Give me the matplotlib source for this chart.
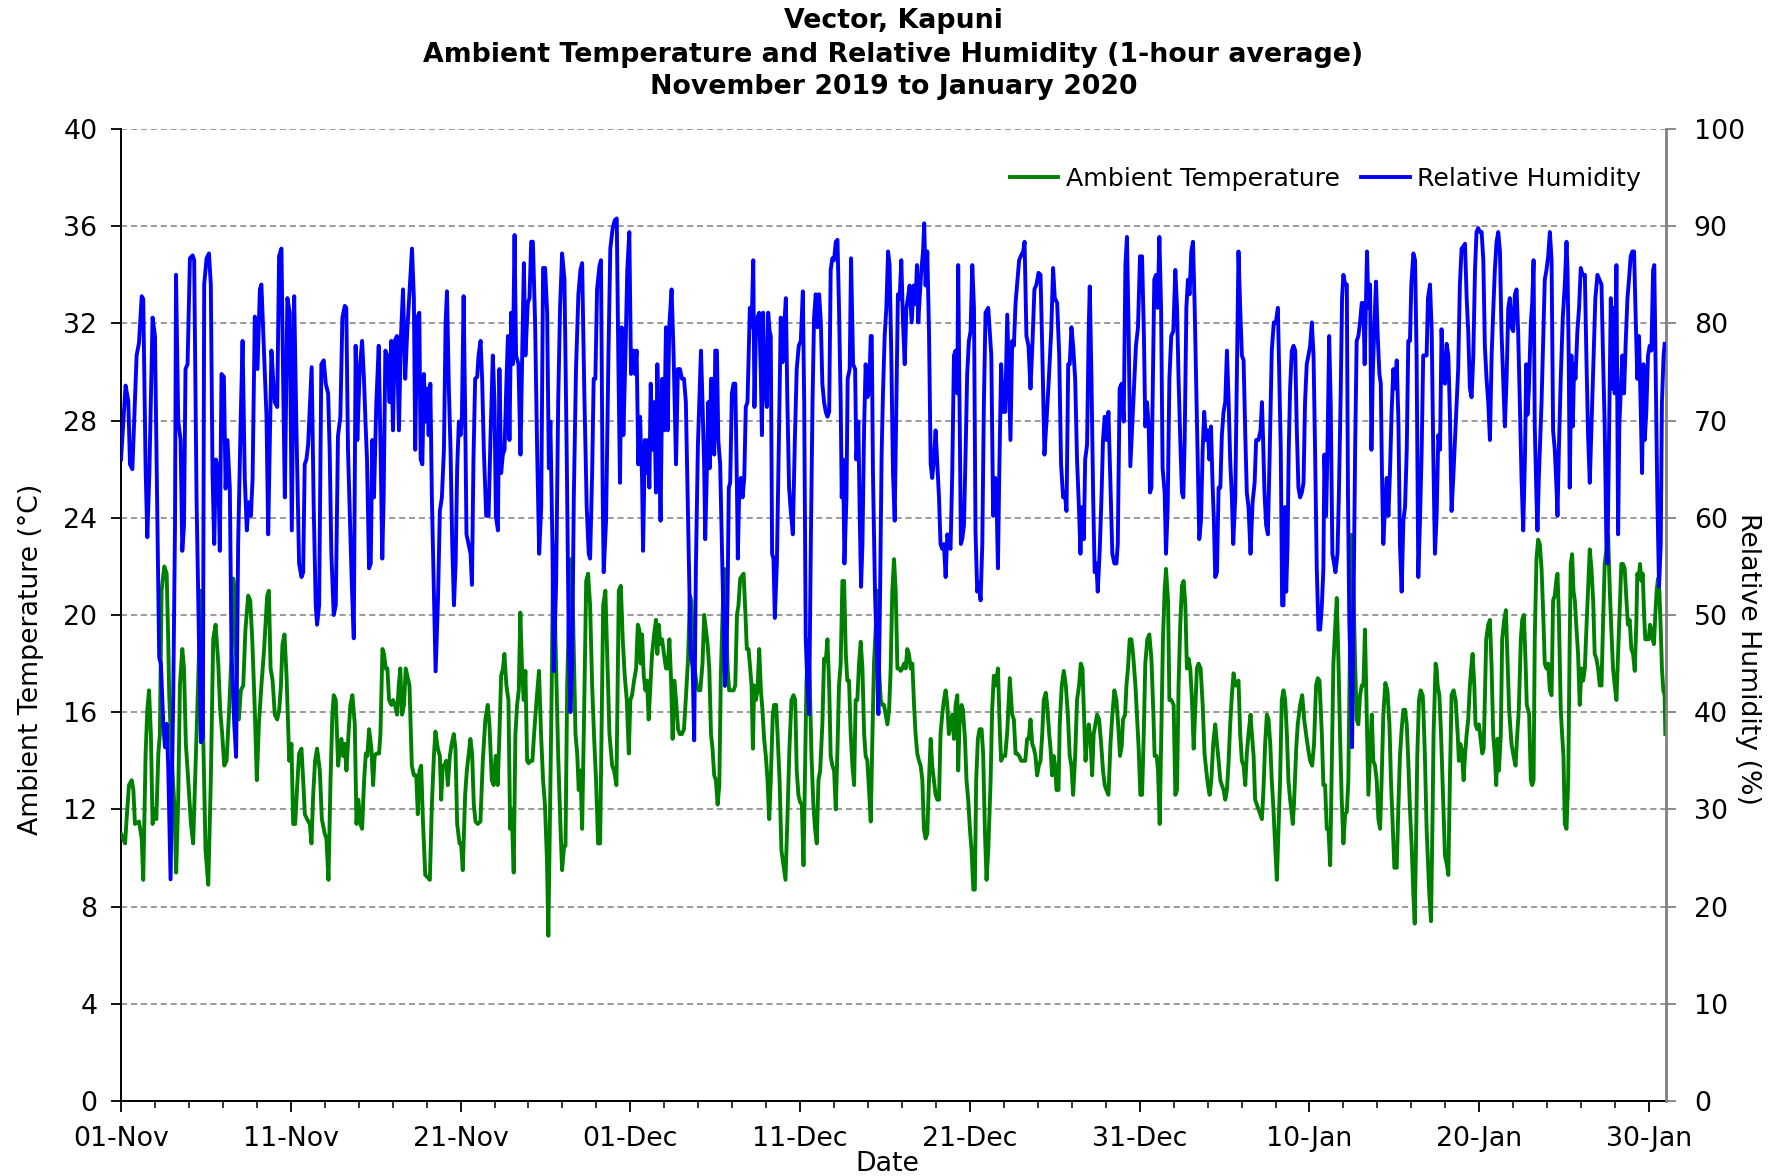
import matplotlib
matplotlib.use("Agg")
import matplotlib.pyplot as plt
import matplotlib.dates as mdates
import pandas as pd

# Hourly-average readings, given as (days since 01-Nov-2019 00:00, value)
START = pd.Timestamp("2019-11-01")

temp_nov = [
    (0.00, 11.0), (0.24, 10.6), (0.33, 11.6), (0.47, 13.0), (0.63, 13.2), (0.73, 12.8), (0.82, 11.4),
    (1.06, 11.5), (1.22, 10.8), (1.31, 9.1), (1.45, 14.3), (1.55, 16.1), (1.65, 16.9), (1.76, 15.1),
    (1.86, 11.4), (1.96, 12.0), (2.08, 11.6), (2.20, 14.3), (2.29, 15.1), (2.39, 21.0), (2.55, 22.0),
    (2.69, 21.7), (2.78, 19.0), (2.84, 16.7), (2.98, 14.2), (3.14, 12.2), (3.25, 9.4), (3.37, 12.4),
    (3.47, 17.1), (3.61, 18.6), (3.71, 17.8), (3.82, 14.7), (3.96, 13.2), (4.12, 11.4), (4.25, 10.6),
    (4.45, 15.1), (4.71, 21.0), (4.84, 15.1), (4.98, 10.3), (5.14, 8.9), (5.29, 13.2), (5.43, 19.0),
    (5.57, 19.6), (5.73, 18.0), (5.84, 16.1), (5.96, 15.1), (6.08, 13.8), (6.22, 14.0), (6.37, 16.1),
    (6.51, 18.4), (6.61, 21.5), (6.71, 21.0), (6.80, 17.1), (6.94, 15.7), (7.06, 16.9), (7.20, 17.1),
    (7.33, 19.4), (7.49, 20.8), (7.61, 20.6), (7.73, 19.0), (7.88, 16.1), (8.00, 13.2), (8.12, 15.5),
    (8.27, 17.1), (8.43, 18.6), (8.61, 20.8), (8.71, 21.0), (8.81, 17.8), (8.93, 17.3), (9.06, 15.9),
    (9.20, 15.7), (9.32, 16.1), (9.42, 17.1), (9.51, 18.8), (9.63, 19.2), (9.75, 17.5), (9.91, 14.0),
    (10.04, 14.7), (10.14, 11.4), (10.26, 11.4), (10.38, 13.0), (10.49, 14.3), (10.63, 14.5),
    (10.73, 13.2), (10.83, 11.8), (10.96, 11.6), (11.12, 11.4), (11.22, 10.6), (11.32, 12.6),
    (11.43, 14.0), (11.55, 14.5), (11.71, 13.6), (11.83, 11.6), (12.00, 11.0), (12.10, 10.8),
    (12.22, 9.1), (12.34, 13.2), (12.45, 15.9), (12.53, 16.7), (12.65, 16.5), (12.79, 13.8),
    (12.89, 14.5), (12.98, 14.9), (13.08, 14.2), (13.18, 14.7), (13.28, 13.6), (13.40, 15.1),
    (13.51, 16.3), (13.63, 16.7), (13.77, 15.5), (13.87, 11.4), (13.98, 12.4), (14.10, 11.4),
    (14.20, 11.2), (14.32, 13.2), (14.42, 14.3), (14.51, 14.2), (14.61, 15.3), (14.75, 14.5),
    (14.85, 13.0), (14.94, 14.2), (15.04, 14.3), (15.20, 14.3), (15.28, 15.1), (15.40, 18.6),
    (15.49, 18.4), (15.59, 17.8), (15.69, 17.8), (15.79, 16.5), (15.93, 16.3), (16.02, 16.5),
    (16.14, 16.3), (16.26, 15.9), (16.36, 17.1), (16.45, 17.8), (16.55, 15.9), (16.67, 16.3),
    (16.77, 17.8), (16.99, 17.1), (17.13, 13.8), (17.25, 13.4), (17.39, 13.4), (17.48, 11.8),
    (17.58, 13.6), (17.68, 13.8), (17.78, 11.6), (17.92, 9.3), (18.07, 9.2), (18.19, 9.1),
    (18.31, 12.2), (18.43, 14.2), (18.52, 15.2), (18.66, 14.5), (18.78, 14.2), (18.86, 12.4),
    (18.95, 13.8), (19.05, 13.8), (19.15, 14.0), (19.25, 13.0), (19.37, 14.2), (19.48, 14.7),
    (19.60, 15.1), (19.70, 14.5), (19.80, 11.4), (19.94, 10.6), (20.03, 10.6), (20.13, 9.5),
    (20.27, 12.6), (20.37, 13.6), (20.48, 14.3), (20.58, 14.9), (20.68, 14.3), (20.78, 12.2),
    (20.88, 11.5), (21.01, 11.4), (21.17, 11.5), (21.31, 14.0), (21.46, 15.7), (21.60, 16.3),
    (21.70, 15.5), (21.84, 13.2), (21.95, 13.0), (22.07, 14.2), (22.19, 13.0), (22.29, 15.1),
    (22.39, 17.5), (22.50, 17.8), (22.58, 18.4), (22.70, 17.1), (22.82, 16.5), (22.92, 11.2),
    (23.01, 12.0), (23.13, 9.4), (23.23, 15.1), (23.33, 16.3), (23.43, 16.9), (23.52, 20.1),
    (23.62, 17.8), (23.72, 16.5), (23.82, 17.7), (23.92, 14.0), (24.01, 13.9), (24.11, 14.0),
    (24.23, 14.0), (24.35, 15.3), (24.50, 16.7), (24.62, 17.7), (24.74, 15.1), (24.86, 13.2),
    (24.97, 12.2), (25.09, 9.9), (25.17, 6.8), (25.27, 11.8), (25.37, 17.1), (25.46, 22.9),
    (25.59, 19.0), (25.75, 14.2), (25.89, 11.2), (25.98, 9.5), (26.10, 10.5), (26.18, 10.5),
    (26.28, 17.1), (26.42, 21.0), (26.51, 22.3), (26.63, 19.8), (26.77, 15.1), (26.87, 14.3),
    (26.96, 12.8), (27.06, 13.6), (27.16, 11.2), (27.28, 16.1), (27.40, 21.4), (27.51, 21.7),
    (27.63, 20.4), (27.75, 17.1), (27.87, 14.9), (27.98, 13.2), (28.10, 10.6), (28.22, 10.6),
    (28.30, 15.1), (28.40, 20.4), (28.53, 21.0), (28.65, 18.0), (28.77, 15.1), (28.93, 13.8),
    (29.04, 13.6), (29.18, 13.0), (29.32, 21.0), (29.44, 21.2), (29.55, 19.0), (29.67, 17.5),
    (29.79, 16.5), (29.91, 14.3),
]

temp_dec = [
    (30.00, 16.5), (30.10, 16.7), (30.22, 17.3), (30.34, 17.8), (30.44, 19.6), (30.53, 19.4),
    (30.61, 18.0), (30.69, 19.2), (30.79, 17.5), (30.89, 16.9), (30.98, 17.3), (31.08, 15.7),
    (31.18, 17.1), (31.28, 18.4), (31.40, 19.2), (31.51, 19.8), (31.59, 18.4), (31.67, 19.6),
    (31.77, 18.8), (31.87, 19.0), (31.98, 18.4), (32.10, 17.8), (32.20, 17.8), (32.30, 19.0),
    (32.40, 17.3), (32.49, 14.9), (32.59, 17.3), (32.69, 16.5), (32.81, 15.3), (32.91, 15.1),
    (33.04, 15.1), (33.16, 15.3), (33.28, 16.7), (33.40, 18.2), (33.51, 20.8), (33.59, 20.6),
    (33.67, 19.0), (33.79, 17.8), (33.91, 17.1), (34.02, 16.9), (34.12, 16.9), (34.25, 18.0),
    (34.35, 20.0), (34.45, 19.4), (34.55, 18.8), (34.65, 17.8), (34.75, 15.1), (34.84, 14.5),
    (34.94, 13.4), (35.04, 13.2), (35.14, 12.2), (35.24, 13.0), (35.33, 17.5), (35.43, 20.0),
    (35.53, 21.9), (35.63, 20.0), (35.73, 17.8), (35.82, 16.9), (35.92, 16.9), (36.08, 16.9),
    (36.18, 17.1), (36.28, 20.0), (36.37, 20.4), (36.47, 21.5), (36.57, 21.6), (36.67, 21.7),
    (36.77, 20.2), (36.86, 18.6), (36.96, 18.6), (37.06, 17.8), (37.14, 17.1), (37.22, 14.5),
    (37.29, 17.1), (37.39, 16.5), (37.49, 16.9), (37.59, 18.6), (37.69, 16.9), (37.78, 16.1),
    (37.88, 14.9), (37.98, 14.2), (38.08, 13.2), (38.18, 11.6), (38.27, 13.2), (38.39, 15.9),
    (38.47, 16.3), (38.59, 16.3), (38.67, 15.1), (38.79, 13.2), (38.90, 10.3), (39.02, 9.7),
    (39.14, 9.1), (39.25, 11.6), (39.37, 14.5), (39.49, 16.5), (39.61, 16.7), (39.71, 16.5),
    (39.80, 13.6), (39.90, 12.6), (40.00, 12.3), (40.10, 12.2), (40.20, 9.7), (40.28, 13.2),
    (40.37, 17.1), (40.47, 19.0), (40.57, 17.1), (40.67, 14.2), (40.78, 12.2), (40.88, 11.2),
    (40.98, 10.6), (41.08, 13.2), (41.18, 13.6), (41.31, 15.5), (41.41, 18.2), (41.51, 18.1),
    (41.61, 19.0), (41.71, 17.1), (41.80, 14.2), (41.90, 13.8), (42.00, 13.6), (42.10, 12.0),
    (42.20, 14.5), (42.29, 17.1), (42.39, 18.0), (42.49, 21.4), (42.59, 21.4), (42.69, 18.4),
    (42.78, 17.3), (42.88, 17.3), (42.98, 15.1), (43.08, 13.8), (43.18, 13.0), (43.27, 16.5),
    (43.37, 16.5), (43.47, 18.0), (43.57, 18.9), (43.67, 17.8), (43.77, 15.1), (43.86, 14.2),
    (43.96, 14.0), (44.06, 12.8), (44.16, 11.5), (44.26, 15.1), (44.35, 18.0), (44.45, 19.4),
    (44.55, 21.0), (44.65, 17.7), (44.75, 16.5), (44.84, 16.3), (44.94, 16.3), (45.04, 15.9),
    (45.14, 15.5), (45.24, 16.1), (45.33, 17.7), (45.43, 21.0), (45.53, 22.3), (45.63, 21.0),
    (45.73, 17.8), (45.82, 17.8), (45.92, 17.7), (46.02, 17.8), (46.12, 18.0), (46.22, 17.8),
    (46.31, 18.6), (46.41, 18.4), (46.51, 17.8), (46.61, 18.0), (46.71, 16.3), (46.80, 15.1),
    (46.90, 14.3), (47.00, 14.0), (47.10, 13.8), (47.20, 13.2), (47.29, 11.2), (47.39, 10.8),
    (47.49, 11.0), (47.59, 13.2), (47.69, 14.9), (47.78, 13.8), (47.88, 13.2), (47.98, 12.6),
    (48.08, 12.4), (48.18, 12.4), (48.27, 15.1), (48.37, 15.9), (48.47, 16.5), (48.57, 16.9),
    (48.67, 16.3), (48.76, 15.1), (48.86, 15.5), (48.96, 15.9), (49.06, 14.9), (49.16, 16.3),
    (49.26, 16.7), (49.31, 13.6), (49.39, 15.5), (49.51, 16.3), (49.59, 16.1), (49.71, 14.9),
    (49.80, 13.2), (49.90, 12.4), (50.00, 11.2), (50.10, 10.3), (50.20, 8.7), (50.29, 8.7),
    (50.37, 13.2), (50.47, 14.9), (50.57, 15.3), (50.69, 15.3), (50.78, 14.3), (50.88, 11.2),
    (50.98, 9.1), (51.08, 10.3), (51.22, 13.2), (51.31, 16.1), (51.41, 17.5), (51.53, 17.1),
    (51.65, 17.8), (51.77, 15.1), (51.84, 14.0), (51.96, 14.2), (52.08, 14.2), (52.20, 15.2),
    (52.35, 17.4), (52.49, 15.9), (52.59, 15.7), (52.69, 14.3), (52.79, 14.3), (52.90, 14.2),
    (53.02, 14.0), (53.14, 14.0), (53.26, 14.0), (53.37, 14.9), (53.47, 14.9), (53.57, 15.7),
    (53.67, 14.7), (53.77, 14.5), (53.86, 14.2), (53.96, 13.4), (54.06, 13.8), (54.16, 14.0),
    (54.26, 15.1), (54.35, 16.5), (54.47, 16.8), (54.55, 16.3), (54.67, 15.1), (54.75, 14.5),
    (54.84, 13.4), (54.94, 14.2), (55.02, 13.8), (55.10, 12.8), (55.22, 12.8), (55.29, 15.5),
    (55.41, 17.1), (55.53, 17.7), (55.65, 17.1), (55.77, 15.9), (55.88, 14.2), (55.98, 13.8),
    (56.08, 12.6), (56.20, 14.2), (56.31, 16.5), (56.43, 17.1), (56.53, 18.0), (56.63, 17.8),
    (56.71, 16.1), (56.81, 14.0), (56.90, 14.9), (57.00, 15.5), (57.10, 14.9), (57.20, 13.4),
    (57.29, 15.1), (57.39, 15.5), (57.49, 15.9), (57.61, 15.7), (57.73, 14.7), (57.84, 13.6),
    (57.94, 13.0), (58.04, 12.8), (58.16, 12.6), (58.28, 14.7), (58.39, 15.9), (58.51, 16.9),
    (58.63, 16.5), (58.75, 15.3), (58.84, 14.2), (58.94, 14.6), (59.02, 15.7), (59.14, 15.9),
    (59.22, 17.1), (59.31, 17.8), (59.41, 19.0), (59.51, 19.0), (59.61, 18.4), (59.75, 17.1),
    (59.84, 15.9), (59.94, 14.5), (60.04, 12.6), (60.14, 12.6), (60.24, 15.1), (60.33, 18.0),
    (60.45, 19.0), (60.57, 19.2), (60.69, 18.2), (60.80, 16.1), (60.88, 14.2),
]

temp_jan = [
    (61.00, 14.2), (61.08, 13.6), (61.18, 11.4), (61.27, 15.1), (61.37, 19.0), (61.47, 21.0),
    (61.55, 21.9), (61.67, 20.6), (61.75, 16.5), (61.86, 16.5), (62.00, 16.3), (62.10, 12.6),
    (62.20, 12.8), (62.29, 17.1), (62.39, 19.6), (62.49, 21.2), (62.59, 21.4), (62.69, 20.4),
    (62.78, 17.8), (62.88, 18.2), (62.98, 17.8), (63.08, 16.5), (63.18, 14.5), (63.27, 16.1),
    (63.37, 17.8), (63.47, 18.0), (63.59, 17.8), (63.71, 16.3), (63.82, 14.3), (63.92, 13.6),
    (64.02, 13.0), (64.12, 12.6), (64.22, 13.2), (64.33, 14.7), (64.45, 15.5), (64.55, 14.7),
    (64.65, 14.0), (64.75, 13.2), (64.84, 13.0), (64.94, 12.8), (65.04, 12.4), (65.14, 12.8),
    (65.24, 14.0), (65.33, 15.5), (65.43, 16.7), (65.53, 17.6), (65.63, 17.1), (65.73, 17.1),
    (65.82, 17.3), (65.92, 15.1), (66.02, 14.0), (66.12, 13.8), (66.22, 13.0), (66.31, 14.3),
    (66.41, 15.1), (66.53, 15.9), (66.61, 15.1), (66.71, 14.2), (66.80, 12.4), (66.90, 12.2),
    (67.00, 12.0), (67.10, 11.8), (67.20, 11.6), (67.29, 12.8), (67.39, 14.7), (67.49, 15.9),
    (67.59, 15.7), (67.69, 14.7), (67.78, 13.2), (67.88, 12.0), (67.98, 10.5), (68.08, 9.1),
    (68.27, 13.2), (68.37, 16.5), (68.47, 16.9), (68.57, 16.5), (68.67, 15.1), (68.76, 13.2),
    (68.86, 12.4), (68.96, 11.8), (69.02, 11.4), (69.10, 12.4), (69.22, 14.5), (69.31, 15.5),
    (69.45, 16.3), (69.57, 16.7), (69.69, 15.7), (69.80, 15.1), (69.92, 14.5), (70.04, 14.0),
    (70.16, 13.8), (70.27, 14.7), (70.39, 17.1), (70.49, 17.4), (70.59, 17.3), (70.73, 15.1),
    (70.82, 13.0), (70.92, 13.0), (71.02, 11.2), (71.12, 11.2), (71.22, 9.7), (71.31, 13.6),
    (71.41, 18.0), (71.51, 19.4), (71.61, 20.7), (71.71, 18.0), (71.80, 15.1), (71.90, 12.4),
    (72.00, 10.6), (72.10, 11.8), (72.20, 11.9), (72.29, 13.2), (72.39, 19.0), (72.49, 23.3),
    (72.59, 21.0), (72.69, 18.0), (72.78, 15.7), (72.88, 15.5), (72.98, 16.7), (73.08, 17.1),
    (73.18, 17.1), (73.27, 19.4), (73.37, 16.1), (73.47, 12.6), (73.57, 14.2), (73.67, 15.9),
    (73.76, 14.0), (73.86, 13.8), (73.96, 13.2), (74.06, 11.6), (74.16, 11.2), (74.25, 13.2),
    (74.35, 15.9), (74.47, 17.2), (74.59, 16.9), (74.71, 15.5), (74.80, 13.2), (74.90, 11.4),
    (75.00, 9.6), (75.14, 9.6), (75.24, 12.2), (75.33, 14.2), (75.43, 15.3), (75.53, 16.1),
    (75.63, 16.1), (75.73, 15.5), (75.82, 14.0), (75.92, 12.0), (76.02, 10.5), (76.12, 8.5),
    (76.20, 7.3), (76.27, 10.3), (76.35, 14.2), (76.45, 16.5), (76.55, 16.9), (76.67, 16.7),
    (76.71, 16.1), (76.80, 14.2), (76.90, 11.2), (77.06, 8.5), (77.16, 7.4), (77.24, 11.2),
    (77.31, 15.1), (77.43, 18.0), (77.49, 17.8), (77.55, 17.1), (77.65, 16.7), (77.75, 15.1),
    (77.88, 12.2), (77.98, 10.1), (78.10, 9.7), (78.18, 9.3), (78.27, 13.2), (78.37, 16.7),
    (78.49, 16.9), (78.61, 16.5), (78.73, 15.1), (78.80, 14.0), (78.88, 14.7), (78.96, 14.5),
    (79.08, 13.2), (79.16, 14.2), (79.26, 15.1), (79.35, 15.7), (79.45, 17.1), (79.55, 18.0),
    (79.61, 18.4), (79.71, 17.1), (79.78, 15.5), (79.88, 15.3), (79.98, 15.5), (80.08, 14.9),
    (80.18, 14.3), (80.26, 14.5), (80.33, 16.5), (80.41, 19.0), (80.53, 19.6), (80.63, 19.8),
    (80.73, 17.8), (80.82, 15.1), (80.92, 14.2), (81.00, 13.0), (81.08, 14.9), (81.16, 13.6),
    (81.27, 15.1), (81.35, 19.0), (81.47, 19.8), (81.57, 20.2), (81.67, 18.0), (81.76, 16.1),
    (81.90, 14.7), (82.02, 14.2), (82.14, 13.8), (82.24, 15.1), (82.33, 16.1), (82.45, 19.0),
    (82.53, 19.8), (82.63, 20.0), (82.73, 18.0), (82.80, 16.3), (82.88, 16.1), (82.94, 15.9),
    (83.04, 13.2), (83.12, 13.0), (83.20, 13.2), (83.27, 19.0), (83.37, 22.3), (83.47, 23.1),
    (83.57, 22.9), (83.67, 21.9), (83.77, 20.0), (83.86, 18.0), (83.96, 17.8), (84.06, 18.0),
    (84.16, 16.9), (84.26, 16.7), (84.35, 20.6), (84.45, 20.8), (84.55, 21.5), (84.61, 21.7),
    (84.69, 20.0), (84.80, 16.1), (84.88, 15.1), (84.96, 14.2), (85.04, 11.4), (85.14, 11.2),
    (85.24, 13.2), (85.33, 19.0), (85.39, 22.1), (85.47, 22.5), (85.55, 21.0), (85.63, 20.6),
    (85.73, 19.4), (85.82, 18.4), (85.92, 16.3), (86.02, 17.8), (86.12, 17.3), (86.22, 17.8),
    (86.31, 19.4), (86.41, 21.0), (86.51, 22.7), (86.61, 21.9), (86.71, 20.6), (86.80, 18.4),
    (86.90, 18.2), (87.00, 17.8), (87.10, 17.1), (87.20, 17.1), (87.29, 19.6), (87.39, 22.1),
    (87.59, 23.3), (87.69, 21.0), (87.78, 19.4), (87.88, 17.8), (87.98, 17.1), (88.08, 16.5),
    (88.18, 18.4), (88.27, 20.2), (88.37, 22.1), (88.47, 22.1), (88.57, 21.9), (88.67, 20.6),
    (88.76, 19.6), (88.86, 19.8), (88.96, 18.6), (89.06, 18.4), (89.16, 17.7), (89.25, 19.6),
    (89.31, 21.7), (89.39, 21.5), (89.47, 22.1), (89.55, 21.4), (89.63, 21.7), (89.71, 20.0),
    (89.78, 19.0), (89.88, 19.0), (89.98, 19.0), (90.06, 19.6), (90.14, 19.4), (90.22, 19.0),
    (90.29, 18.8), (90.37, 20.0), (90.45, 21.0), (90.53, 21.5), (90.61, 21.0), (90.69, 19.4),
    (90.76, 17.8), (90.84, 16.9), (90.92, 16.7), (90.96, 15.1),
]

rh_nov = [
    (0.00, 66.0), (0.27, 73.6), (0.43, 72.0), (0.53, 65.5), (0.67, 65.0), (0.92, 76.7), (1.06, 78.0),
    (1.22, 82.8), (1.31, 82.5), (1.45, 65.0), (1.55, 58.0), (1.67, 64.6), (1.86, 80.6), (2.00, 78.7),
    (2.25, 45.6), (2.35, 45.0), (2.49, 38.8), (2.59, 36.4), (2.69, 38.8), (2.78, 34.4), (2.92, 22.8),
    (3.08, 42.2), (3.18, 59.0), (3.24, 85.0), (3.37, 70.0), (3.51, 68.0), (3.61, 56.6), (3.71, 59.2),
    (3.80, 75.3), (3.92, 75.8), (4.06, 86.7), (4.22, 87.0), (4.31, 86.5), (4.45, 62.0), (4.59, 47.6),
    (4.71, 36.9), (4.82, 37.5), (4.90, 84.0), (5.04, 86.7), (5.18, 87.2), (5.29, 84.0), (5.39, 64.6),
    (5.49, 57.3), (5.59, 66.0), (5.73, 65.0), (5.82, 56.6), (5.92, 74.8), (6.06, 74.5), (6.16, 63.0),
    (6.27, 68.0), (6.41, 63.0), (6.51, 46.1), (6.67, 38.8), (6.78, 35.4), (6.90, 57.3), (7.06, 70.9),
    (7.16, 78.2), (7.29, 64.1), (7.41, 58.7), (7.53, 61.6), (7.65, 60.2), (7.75, 64.0), (7.88, 80.7),
    (8.04, 75.3), (8.18, 83.5), (8.27, 84.0), (8.43, 76.7), (8.57, 70.4), (8.67, 58.3), (8.76, 67.0),
    (8.86, 77.2), (8.96, 74.3), (9.06, 71.9), (9.20, 71.4), (9.31, 86.9), (9.45, 87.7), (9.55, 74.3),
    (9.65, 62.1), (9.80, 82.6), (9.94, 81.1), (10.06, 58.7), (10.20, 82.8), (10.33, 69.4),
    (10.49, 55.3), (10.63, 53.9), (10.73, 54.4), (10.82, 65.5), (10.92, 66.0), (11.02, 67.5),
    (11.12, 71.4), (11.23, 75.5), (11.35, 61.1), (11.47, 51.0), (11.55, 49.0), (11.67, 51.0),
    (11.80, 75.8), (11.94, 76.2), (12.06, 73.8), (12.20, 72.8), (12.29, 67.0), (12.39, 56.3),
    (12.53, 50.0), (12.65, 51.0), (12.78, 68.4), (12.92, 70.4), (13.04, 80.6), (13.18, 81.8),
    (13.27, 81.6), (13.37, 67.0), (13.47, 60.7), (13.59, 53.4), (13.71, 47.6), (13.82, 77.7),
    (13.92, 68.0), (14.06, 75.3), (14.20, 78.2), (14.31, 74.3), (14.41, 69.4), (14.49, 66.0),
    (14.61, 54.8), (14.71, 55.3), (14.80, 68.0), (14.90, 62.1), (15.04, 71.9), (15.18, 77.7),
    (15.29, 67.0), (15.39, 55.8), (15.47, 62.1), (15.57, 77.2), (15.69, 76.7), (15.82, 71.9),
    (15.92, 78.2), (16.02, 69.0), (16.12, 78.2), (16.25, 78.7), (16.37, 69.0), (16.49, 78.7),
    (16.61, 83.5), (16.74, 74.3), (16.86, 79.2), (17.14, 87.7), (17.25, 82.6), (17.33, 67.0),
    (17.45, 80.6), (17.57, 81.1), (17.65, 66.0), (17.75, 65.5), (17.84, 74.8), (17.94, 69.9),
    (18.04, 73.3), (18.12, 68.5), (18.22, 73.8), (18.31, 62.1), (18.43, 52.4), (18.53, 44.2),
    (18.67, 51.5), (18.78, 60.7), (18.90, 62.1), (19.02, 67.0), (19.12, 80.1), (19.20, 83.3),
    (19.31, 73.3), (19.41, 67.0), (19.51, 57.3), (19.61, 51.0), (19.71, 55.3), (19.80, 65.1),
    (19.90, 69.9), (20.00, 68.5), (20.08, 70.4), (20.18, 82.8), (20.27, 70.9), (20.35, 58.3),
    (20.47, 57.3), (20.59, 56.3), (20.67, 53.1), (20.76, 66.0), (20.86, 74.3), (20.98, 74.5),
    (21.06, 76.7), (21.18, 78.2), (21.27, 74.3), (21.37, 67.0), (21.51, 60.2), (21.65, 60.2),
    (21.76, 68.0), (21.90, 76.7), (22.00, 71.9), (22.08, 60.2), (22.20, 58.7), (22.29, 75.3),
    (22.39, 64.6), (22.49, 66.5), (22.59, 67.0), (22.69, 73.3), (22.79, 78.7), (22.88, 68.0),
    (22.98, 81.1), (23.08, 75.8), (23.18, 89.1), (23.27, 76.7), (23.41, 75.8), (23.53, 66.5),
    (23.63, 76.7), (23.73, 86.2), (23.82, 76.7), (23.96, 82.1), (24.06, 82.6), (24.16, 88.4),
    (24.26, 88.4), (24.39, 80.1), (24.51, 67.0), (24.63, 56.3), (24.75, 61.1), (24.86, 85.7),
    (24.98, 85.7), (25.10, 81.1), (25.20, 65.1), (25.29, 69.9), (25.41, 57.3), (25.49, 44.2),
    (25.63, 53.4), (25.75, 71.9), (25.86, 81.6), (25.98, 87.2), (26.12, 84.5), (26.25, 67.0),
    (26.37, 47.6), (26.47, 40.0), (26.57, 44.6), (26.67, 62.1), (26.80, 75.3), (26.94, 83.0),
    (27.06, 85.5), (27.16, 86.2), (27.29, 72.8), (27.43, 61.1), (27.55, 56.3), (27.63, 55.8),
    (27.75, 64.6), (27.84, 74.3), (27.94, 74.3), (28.04, 83.5), (28.18, 85.9), (28.27, 86.5),
    (28.37, 62.6), (28.43, 54.4), (28.57, 59.7), (28.71, 76.7), (28.82, 87.7), (28.96, 89.8),
    (29.08, 90.6), (29.20, 90.8), (29.29, 76.7), (29.39, 63.6), (29.49, 79.6), (29.59, 68.5),
    (29.71, 76.7), (29.82, 85.5), (29.94, 89.4),
]

rh_dec = [
    (30.04, 74.8), (30.18, 77.2), (30.27, 74.8), (30.37, 77.2), (30.47, 65.5), (30.57, 70.4),
    (30.69, 64.1), (30.75, 56.6), (30.86, 68.0), (30.96, 64.6), (31.04, 68.0), (31.12, 63.1),
    (31.20, 73.8), (31.31, 67.0), (31.41, 71.9), (31.51, 62.6), (31.59, 75.8), (31.69, 68.5),
    (31.78, 59.7), (31.88, 74.3), (32.00, 69.0), (32.10, 79.6), (32.20, 69.0), (32.29, 79.6),
    (32.43, 83.5), (32.55, 76.7), (32.69, 65.5), (32.80, 75.3), (32.92, 75.3), (33.04, 74.3),
    (33.16, 74.3), (33.27, 71.9), (33.43, 57.3), (33.55, 46.1), (33.67, 44.6), (33.76, 37.1),
    (33.86, 54.8), (33.98, 67.5), (34.16, 77.2), (34.25, 71.9), (34.35, 65.1), (34.41, 57.8),
    (34.51, 65.0), (34.59, 71.9), (34.67, 65.1), (34.75, 74.3), (34.84, 74.3), (34.94, 66.5),
    (35.00, 77.2), (35.10, 77.2), (35.18, 68.0), (35.29, 65.5), (35.39, 57.3), (35.49, 49.0),
    (35.57, 42.7), (35.65, 44.6), (35.73, 52.4), (35.80, 63.1), (35.88, 63.6), (35.98, 72.8),
    (36.08, 73.8), (36.18, 73.8), (36.28, 63.1), (36.33, 55.8), (36.41, 62.6), (36.51, 64.1),
    (36.61, 62.1), (36.71, 64.1), (36.80, 71.4), (36.90, 71.9), (36.96, 76.2), (37.04, 81.6),
    (37.14, 79.6), (37.24, 86.5), (37.31, 71.4), (37.39, 78.7), (37.49, 80.6), (37.59, 81.1),
    (37.69, 74.3), (37.75, 68.5), (37.82, 81.1), (37.92, 73.8), (38.04, 71.4), (38.12, 81.1),
    (38.20, 79.2), (38.27, 78.7), (38.35, 56.3), (38.43, 55.8), (38.51, 49.7), (38.63, 55.3),
    (38.75, 68.0), (38.86, 80.6), (38.96, 76.0), (39.06, 79.6), (39.16, 82.6), (39.25, 71.9),
    (39.35, 63.1), (39.45, 60.7), (39.57, 58.3), (39.69, 68.0), (39.80, 75.3), (39.92, 77.7),
    (40.04, 78.2), (40.16, 83.3), (40.24, 71.9), (40.33, 47.6), (40.43, 42.7), (40.53, 39.8),
    (40.63, 57.3), (40.73, 71.9), (40.82, 80.6), (40.92, 83.0), (41.02, 79.6), (41.12, 83.0),
    (41.22, 80.1), (41.31, 73.8), (41.41, 71.9), (41.51, 70.9), (41.61, 70.4), (41.71, 70.9),
    (41.80, 85.5), (41.90, 86.7), (42.00, 86.5), (42.10, 88.4), (42.20, 88.6), (42.29, 81.6),
    (42.39, 71.9), (42.45, 62.1), (42.53, 66.0), (42.61, 55.3), (42.73, 62.1), (42.80, 74.3),
    (42.92, 75.3), (43.00, 86.7), (43.12, 75.8), (43.24, 75.3), (43.31, 66.0), (43.43, 69.9),
    (43.51, 60.2), (43.59, 52.9), (43.67, 57.3), (43.77, 69.4), (43.86, 75.8), (43.96, 72.4),
    (44.06, 72.9), (44.16, 78.7), (44.22, 78.7), (44.29, 64.6), (44.41, 52.4), (44.53, 45.1),
    (44.61, 39.8), (44.71, 52.4), (44.80, 66.5), (44.88, 72.8), (44.98, 78.7), (45.08, 81.6),
    (45.18, 87.4), (45.27, 86.0), (45.37, 76.7), (45.47, 64.6), (45.57, 59.7), (45.67, 71.9),
    (45.76, 83.0), (45.86, 82.5), (45.96, 86.5), (46.06, 80.1), (46.16, 75.8), (46.26, 81.6),
    (46.35, 82.6), (46.45, 83.9), (46.57, 80.1), (46.69, 83.9), (46.80, 82.0), (46.88, 86.0),
    (46.96, 80.1), (47.04, 82.6), (47.14, 85.5), (47.24, 87.4), (47.31, 90.3), (47.39, 83.9),
    (47.49, 87.4), (47.59, 79.2), (47.69, 65.5), (47.78, 64.1), (47.88, 66.0), (47.98, 69.0),
    (48.08, 65.5), (48.18, 62.1), (48.27, 57.3), (48.37, 56.8), (48.47, 57.3), (48.57, 53.9),
    (48.67, 58.3), (48.76, 57.3), (48.86, 56.8), (48.96, 64.6), (49.06, 76.7), (49.16, 77.2),
    (49.26, 72.8), (49.31, 86.0), (49.39, 71.9), (49.47, 57.3), (49.55, 57.8), (49.65, 59.2),
    (49.75, 67.0), (49.84, 74.8), (49.94, 78.2), (50.04, 79.2), (50.14, 86.0), (50.24, 81.6),
    (50.33, 58.7), (50.43, 52.4), (50.53, 53.4), (50.63, 51.5), (50.73, 57.3), (50.82, 71.4),
    (50.92, 81.1), (51.08, 81.6), (51.26, 76.7), (51.37, 60.2), (51.49, 64.1), (51.57, 62.1),
    (51.65, 54.8), (51.73, 64.6), (51.84, 75.8), (51.96, 70.9), (52.08, 70.9), (52.20, 80.9),
    (52.30, 74.3), (52.39, 68.0), (52.49, 78.2), (52.59, 77.7), (52.69, 82.1), (52.78, 84.0),
    (52.90, 86.5), (53.02, 87.0), (53.14, 87.4), (53.22, 88.4), (53.33, 78.7), (53.45, 77.7),
    (53.57, 73.3), (53.69, 78.2), (53.80, 83.5), (53.92, 84.0), (54.04, 85.2), (54.16, 85.0),
    (54.27, 76.7), (54.39, 66.5), (54.51, 69.9), (54.65, 74.3), (54.79, 79.2), (54.90, 85.7),
    (55.00, 82.6), (55.14, 82.1), (55.26, 76.7), (55.37, 65.5), (55.49, 62.1), (55.59, 62.6),
    (55.69, 60.7), (55.79, 75.8), (55.88, 75.8), (55.98, 79.6), (56.08, 77.7), (56.20, 74.3),
    (56.31, 66.0), (56.43, 60.7), (56.51, 56.3), (56.61, 61.1), (56.71, 57.8), (56.79, 66.0),
    (56.90, 67.5), (57.00, 79.6), (57.06, 83.8), (57.16, 74.3), (57.26, 62.1), (57.35, 54.4),
    (57.45, 55.3), (57.53, 52.4), (57.65, 56.8), (57.75, 62.1), (57.84, 68.0), (57.94, 70.4),
    (58.04, 68.0), (58.16, 70.9), (58.28, 63.1), (58.39, 56.3), (58.51, 55.3), (58.63, 55.3),
    (58.71, 57.3), (58.82, 73.3), (58.94, 73.8), (59.06, 69.9), (59.16, 86.0), (59.25, 88.9),
    (59.35, 79.2), (59.45, 65.3), (59.57, 69.9), (59.78, 77.7), (59.90, 79.6), (60.02, 86.9),
    (60.14, 86.9), (60.25, 78.7), (60.33, 69.4), (60.43, 71.9), (60.53, 69.4), (60.61, 62.6),
    (60.69, 63.1), (60.76, 71.9), (60.86, 84.5), (60.96, 85.0),
]

rh_jan = [
    (61.06, 81.6), (61.16, 88.9), (61.26, 81.6), (61.35, 65.1), (61.47, 62.6), (61.55, 56.3),
    (61.65, 61.1), (61.75, 74.3), (61.86, 78.7), (61.98, 79.2), (62.10, 85.5), (62.20, 81.6),
    (62.29, 74.3), (62.39, 68.0), (62.49, 62.6), (62.57, 62.1), (62.65, 68.0), (62.75, 81.6),
    (62.84, 84.5), (62.94, 83.0), (63.04, 87.4), (63.14, 88.4), (63.24, 81.6), (63.35, 71.9),
    (63.43, 65.1), (63.51, 57.8), (63.61, 59.7), (63.71, 67.0), (63.80, 70.9), (63.90, 68.0),
    (64.02, 69.0), (64.10, 66.0), (64.20, 69.4), (64.29, 63.6), (64.37, 59.7), (64.45, 53.9),
    (64.55, 54.4), (64.65, 63.1), (64.75, 63.1), (64.84, 68.5), (64.94, 70.9), (65.04, 71.9),
    (65.14, 77.2), (65.24, 71.9), (65.33, 66.0), (65.43, 62.1), (65.51, 57.3), (65.63, 62.1),
    (65.73, 75.3), (65.82, 87.4), (65.92, 81.6), (66.02, 76.7), (66.12, 76.2), (66.22, 68.5),
    (66.31, 62.6), (66.41, 61.1), (66.53, 56.3), (66.65, 61.6), (66.77, 63.6), (66.86, 68.0),
    (67.00, 68.0), (67.12, 69.0), (67.20, 71.9), (67.27, 68.0), (67.35, 62.6), (67.45, 59.2),
    (67.55, 58.3), (67.65, 66.0), (67.78, 77.2), (67.90, 80.1), (68.02, 80.1), (68.14, 81.6),
    (68.31, 67.0), (68.39, 51.0), (68.47, 51.0), (68.55, 61.1), (68.63, 52.4), (68.71, 57.3),
    (68.78, 67.0), (68.86, 73.3), (68.96, 77.2), (69.06, 77.7), (69.16, 77.2), (69.25, 69.4),
    (69.35, 63.1), (69.45, 62.1), (69.55, 62.6), (69.65, 63.6), (69.74, 71.9), (69.84, 75.8),
    (69.94, 76.7), (70.04, 77.7), (70.14, 80.1), (70.24, 76.7), (70.33, 67.0), (70.43, 54.8),
    (70.53, 48.5), (70.63, 48.5), (70.73, 51.0), (70.82, 54.8), (70.88, 66.5), (70.98, 60.2),
    (71.06, 67.0), (71.16, 78.7), (71.25, 71.9), (71.35, 56.3), (71.45, 55.3), (71.53, 54.4),
    (71.65, 56.3), (71.73, 62.1), (71.84, 72.8), (71.92, 82.6), (72.00, 85.0), (72.10, 84.0),
    (72.20, 84.0), (72.27, 62.1), (72.35, 49.0), (72.45, 42.7), (72.51, 36.4), (72.59, 50.0),
    (72.69, 67.0), (72.78, 78.2), (72.88, 78.7), (72.98, 80.1), (73.08, 82.1), (73.18, 82.1),
    (73.25, 75.8), (73.31, 80.6), (73.39, 87.4), (73.47, 81.6), (73.57, 84.0), (73.65, 67.0),
    (73.73, 74.8), (73.82, 79.6), (73.92, 84.3), (74.02, 78.7), (74.12, 74.8), (74.20, 73.8),
    (74.27, 64.6), (74.35, 57.3), (74.45, 61.1), (74.55, 64.1), (74.65, 60.2), (74.74, 64.6),
    (74.84, 70.9), (74.94, 75.3), (75.04, 73.3), (75.14, 76.2), (75.24, 69.9), (75.33, 57.3),
    (75.43, 52.4), (75.53, 59.7), (75.63, 61.1), (75.73, 67.0), (75.82, 78.2), (75.92, 78.2),
    (76.00, 84.0), (76.12, 87.2), (76.22, 86.5), (76.31, 76.7), (76.41, 53.9), (76.51, 59.7),
    (76.61, 67.0), (76.70, 76.7), (76.90, 76.7), (76.98, 82.6), (77.10, 84.0), (77.20, 79.2),
    (77.29, 67.0), (77.39, 56.3), (77.49, 60.2), (77.59, 68.5), (77.69, 67.0), (77.78, 79.4),
    (77.88, 74.3), (77.98, 73.8), (78.08, 77.9), (78.18, 76.7), (78.27, 70.9), (78.37, 60.7),
    (78.47, 64.1), (78.57, 68.0), (78.67, 71.9), (78.76, 75.3), (78.86, 84.0), (78.96, 87.7),
    (79.06, 87.9), (79.16, 88.2), (79.26, 82.6), (79.35, 79.2), (79.45, 73.3), (79.55, 72.4),
    (79.65, 76.7), (79.75, 85.5), (79.84, 89.4), (79.94, 89.8), (80.04, 89.4), (80.14, 89.4),
    (80.24, 86.5), (80.33, 77.7), (80.43, 74.3), (80.53, 71.9), (80.63, 68.0), (80.73, 76.7),
    (80.82, 81.1), (80.92, 85.5), (81.02, 88.4), (81.12, 89.4), (81.22, 87.4), (81.31, 79.2),
    (81.41, 74.3), (81.51, 69.4), (81.61, 74.3), (81.71, 81.6), (81.80, 82.6), (81.90, 79.6),
    (82.00, 79.2), (82.10, 83.0), (82.20, 83.5), (82.29, 79.2), (82.39, 71.9), (82.49, 64.1),
    (82.59, 58.7), (82.69, 66.0), (82.77, 75.8), (82.84, 70.6), (82.92, 73.1), (83.04, 80.1),
    (83.12, 82.1), (83.20, 86.5), (83.27, 69.4), (83.37, 62.1), (83.43, 58.7), (83.51, 64.1),
    (83.59, 68.0), (83.67, 71.9), (83.78, 79.2), (83.86, 84.5), (83.96, 85.5), (84.06, 86.9),
    (84.16, 89.4), (84.26, 86.5), (84.35, 69.0), (84.45, 67.0), (84.55, 63.1), (84.61, 60.2),
    (84.69, 67.0), (84.80, 74.3), (84.92, 80.6), (85.04, 84.0), (85.14, 88.4), (85.20, 85.5),
    (85.27, 76.7), (85.33, 63.1), (85.43, 76.7), (85.51, 69.4), (85.59, 75.8), (85.67, 74.3),
    (85.78, 79.2), (85.88, 81.6), (85.98, 85.7), (86.08, 85.0), (86.22, 85.0), (86.31, 76.7),
    (86.41, 68.5), (86.51, 63.6), (86.61, 69.4), (86.73, 76.7), (86.84, 82.6), (86.96, 85.0),
    (87.08, 84.5), (87.20, 84.0), (87.29, 76.7), (87.39, 69.4), (87.49, 57.3), (87.55, 55.3),
    (87.65, 69.0), (87.75, 82.6), (87.82, 73.3), (87.90, 81.6), (87.98, 72.8), (88.08, 86.0),
    (88.18, 58.3), (88.25, 69.4), (88.33, 72.8), (88.43, 76.7), (88.53, 72.8), (88.63, 78.2),
    (88.73, 82.6), (88.82, 84.5), (88.92, 86.9), (89.02, 87.4), (89.12, 87.4), (89.20, 81.6),
    (89.31, 74.3), (89.41, 78.7), (89.51, 71.4), (89.59, 64.6), (89.67, 75.8), (89.75, 68.0),
    (89.84, 70.9), (89.94, 76.7), (90.04, 77.7), (90.14, 77.2), (90.24, 85.5), (90.31, 86.0),
    (90.39, 75.3), (90.49, 62.1), (90.59, 52.9), (90.69, 57.3), (90.76, 71.9), (90.86, 76.7),
    (90.92, 77.9),
]

title_lines = [
    "Vector, Kapuni",
    "Ambient Temperature and Relative Humidity (1-hour average)",
    "November 2019 to January 2020",
]
temp_label = "Ambient Temperature"
rh_label = "Relative Humidity"
temp_ticks = list(range(0, 41, 4))
rh_ticks = list(range(0, 101, 10))


def to_series(*chunks):
    pts = [p for chunk in chunks for p in chunk]
    times = [START + pd.Timedelta(days=d) for d, _ in pts]
    values = [v for _, v in pts]
    return times, values


t_time, t_val = to_series(temp_nov, temp_dec, temp_jan)
h_time, h_val = to_series(rh_nov, rh_dec, rh_jan)

W, H = 1776, 1176
fig = plt.figure(figsize=(W / 100, H / 100), dpi=100)
L, R, T, B = 121, 1666, 129, 1101
ax = fig.add_axes([L / W, 1 - B / H, (R - L) / W, (B - T) / H])
ax2 = ax.twinx()

FS = 19.3
GREEN = "#008000"
BLUE = "#0000FF"
GRID = "#808080"

ln1, = ax.plot(t_time, t_val, color=GREEN, lw=2.8, label=temp_label, zorder=3)
ln2, = ax2.plot(h_time, h_val, color=BLUE, lw=2.8, label=rh_label, zorder=3)

ax.set_ylim(0, 40)
ax2.set_ylim(0, 100)
ax.set_yticks(temp_ticks)
ax2.set_yticks(rh_ticks)

end = START + pd.Timedelta(days=91)
ax.set_xlim(START, end)
major_dates = pd.date_range(START, periods=10, freq="10D")
minor_dates = pd.date_range(START, end, freq="2D")
ax.set_xticks(mdates.date2num(major_dates))
ax.set_xticks(mdates.date2num(minor_dates), minor=True)
ax.xaxis.set_major_formatter(mdates.DateFormatter("%d-%b"))

ax.yaxis.grid(True, linestyle=(0, (4, 2.5)), color=GRID, lw=1.1)
ax.set_axisbelow(True)

ax.spines["top"].set_visible(False)
ax2.spines["top"].set_visible(False)
ax2.spines["left"].set_visible(False)
ax2.spines["bottom"].set_visible(False)
ax.spines["right"].set_visible(False)
ax.spines["left"].set_linewidth(1.4)
ax.spines["bottom"].set_linewidth(1.4)
ax2.spines["right"].set_color(GRID)
ax2.spines["right"].set_linewidth(2.0)

ax.tick_params(axis="y", direction="out", length=7, width=1.3, labelsize=FS, pad=10)
ax.tick_params(axis="x", which="major", direction="out", length=8, width=1.3, labelsize=FS, pad=10)
ax.tick_params(axis="x", which="minor", direction="out", length=5, width=1.1)
ax2.tick_params(axis="y", direction="out", length=7, width=1.3, color=GRID, labelsize=FS, pad=13)

ax.set_ylabel("Ambient Temperature (°C)", fontsize=FS)
ax.yaxis.label.set(rotation_mode="default", va="center", ha="center")
ax.yaxis.set_label_coords((31 - L) / (R - L), 1 - (659 - T) / (B - T))

ax2.set_ylabel("Relative Humidity (%)", fontsize=FS, rotation=270)
ax2.yaxis.label.set(rotation_mode="default", va="center", ha="center")
ax2.yaxis.set_label_coords((1748 - L) / (R - L), 1 - (659 - T) / (B - T))

ax.set_xlabel("Date", fontsize=FS)
ax.xaxis.label.set(va="center", ha="center")
ax.xaxis.set_label_coords((887 - L) / (R - L), -(1164 - B) / (B - T))

for line, ypix in zip(title_lines, (21, 55, 87)):
    fig.text((L + R) / 2 / W, 1 - ypix / H, line, ha="center", va="center",
             fontsize=FS, fontweight="bold")

leg = ax2.legend([ln1, ln2], [temp_label, rh_label], loc="center right",
                 bbox_to_anchor=(0.9986, 1 - 50 / (B - T)), ncol=2, frameon=False,
                 fontsize=18.2, handlelength=1.9, handletextpad=0.3,
                 columnspacing=0.85, borderpad=0.4)

fig.savefig("out.png", dpi=100)
